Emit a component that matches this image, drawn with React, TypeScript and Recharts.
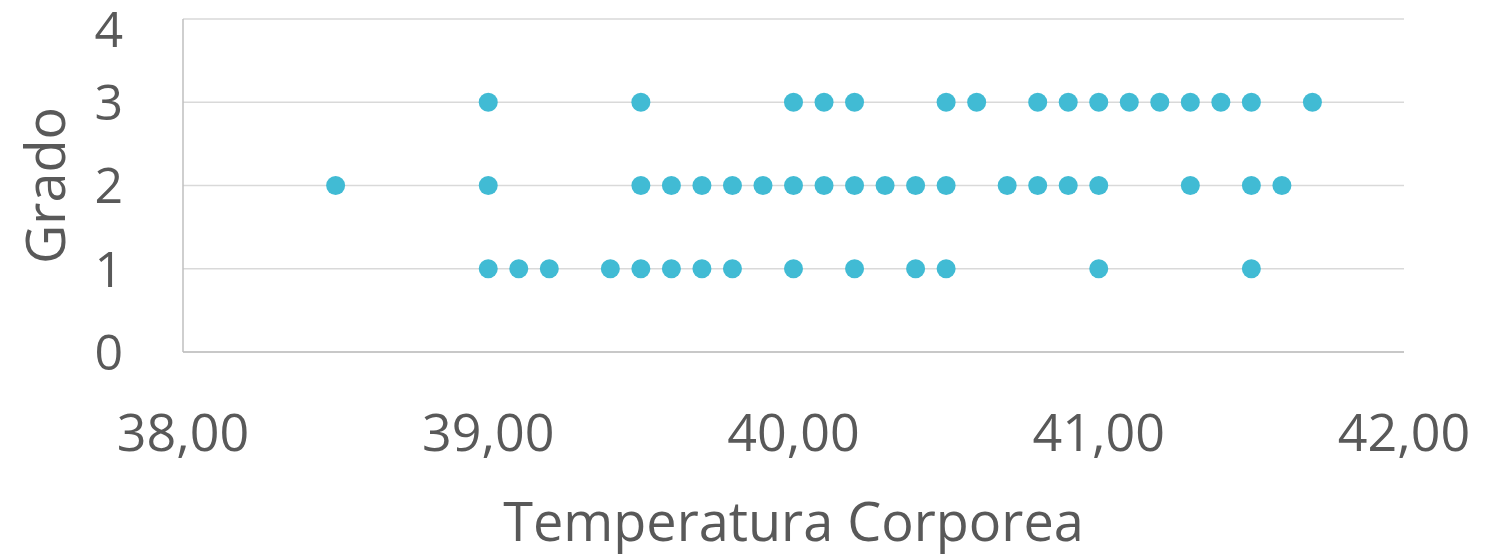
import React from "react";
import { ScatterChart, Scatter, XAxis, YAxis, CartesianGrid, Label } from "recharts";

// Temperatures, one list per grade
const tempGrado1 = [39.0, 39.1, 39.2, 39.4, 39.5, 39.6, 39.7, 39.8, 40.0, 40.2, 40.4, 40.5, 41.0, 41.5];
const tempGrado2 = [38.5, 39.0, 39.5, 39.6, 39.7, 39.8, 39.9, 40.0, 40.1, 40.2, 40.3, 40.4, 40.5, 40.7, 40.8, 40.9, 41.0, 41.3, 41.5, 41.6];
const tempGrado3 = [39.0, 39.5, 40.0, 40.1, 40.2, 40.5, 40.6, 40.8, 40.9, 41.0, 41.1, 41.2, 41.3, 41.4, 41.5, 41.7];

const xTicks = [38, 39, 40, 41, 42];
const yTicks = [0, 1, 2, 3, 4];

const points = [
  ...tempGrado1.map((t) => ({ temp: t, grado: 1 })),
  ...tempGrado2.map((t) => ({ temp: t, grado: 2 })),
  ...tempGrado3.map((t) => ({ temp: t, grado: 3 })),
];

const font = "'Open Sans', sans-serif";
const textColor = "#595959";

export default function App() {
  return (
    <div style={{ position: "absolute", left: 0, top: 0, background: "#fff" }}>
      <ScatterChart width={1499} height={555} margin={{ top: 19, right: 95, left: 0, bottom: 0 }}>
        <CartesianGrid vertical={false} stroke="#d9d9d9" strokeWidth={1.5} />
        <XAxis
          type="number"
          dataKey="temp"
          domain={[38, 42]}
          ticks={xTicks}
          tickFormatter={(v: number) => v.toFixed(2).replace(".", ",")}
          height={203}
          tickLine={false}
          tickSize={0}
          tickMargin={62}
          axisLine={{ stroke: "#bfbfbf", strokeWidth: 1.5 }}
          tick={{ fill: textColor, fontSize: 52, fontFamily: font }}
        >
          <Label
            value="Temperatura Corporea"
            position="insideBottom"
            offset={14}
            style={{ fill: textColor, fontSize: 54, fontFamily: font }}
          />
        </XAxis>
        <YAxis
          type="number"
          dataKey="grado"
          domain={[0, 4]}
          ticks={yTicks}
          width={183}
          tickLine={false}
          tickSize={0}
          tickMargin={60}
          axisLine={{ stroke: "#bfbfbf", strokeWidth: 1.5 }}
          tick={{ fill: textColor, fontSize: 50, fontFamily: font }}
        >
          <Label
            value="Grado"
            angle={-90}
            position="insideLeft"
            offset={46}
            style={{ fill: textColor, fontSize: 54, fontFamily: font, textAnchor: "middle" }}
          />
        </YAxis>
        <Scatter
          data={points}
          fill="#41bbd4"
          isAnimationActive={false}
          shape={(props: any) => <circle cx={props.cx} cy={props.cy} r={9.5} fill="#41bbd4" />}
        />
      </ScatterChart>
    </div>
  );
}
